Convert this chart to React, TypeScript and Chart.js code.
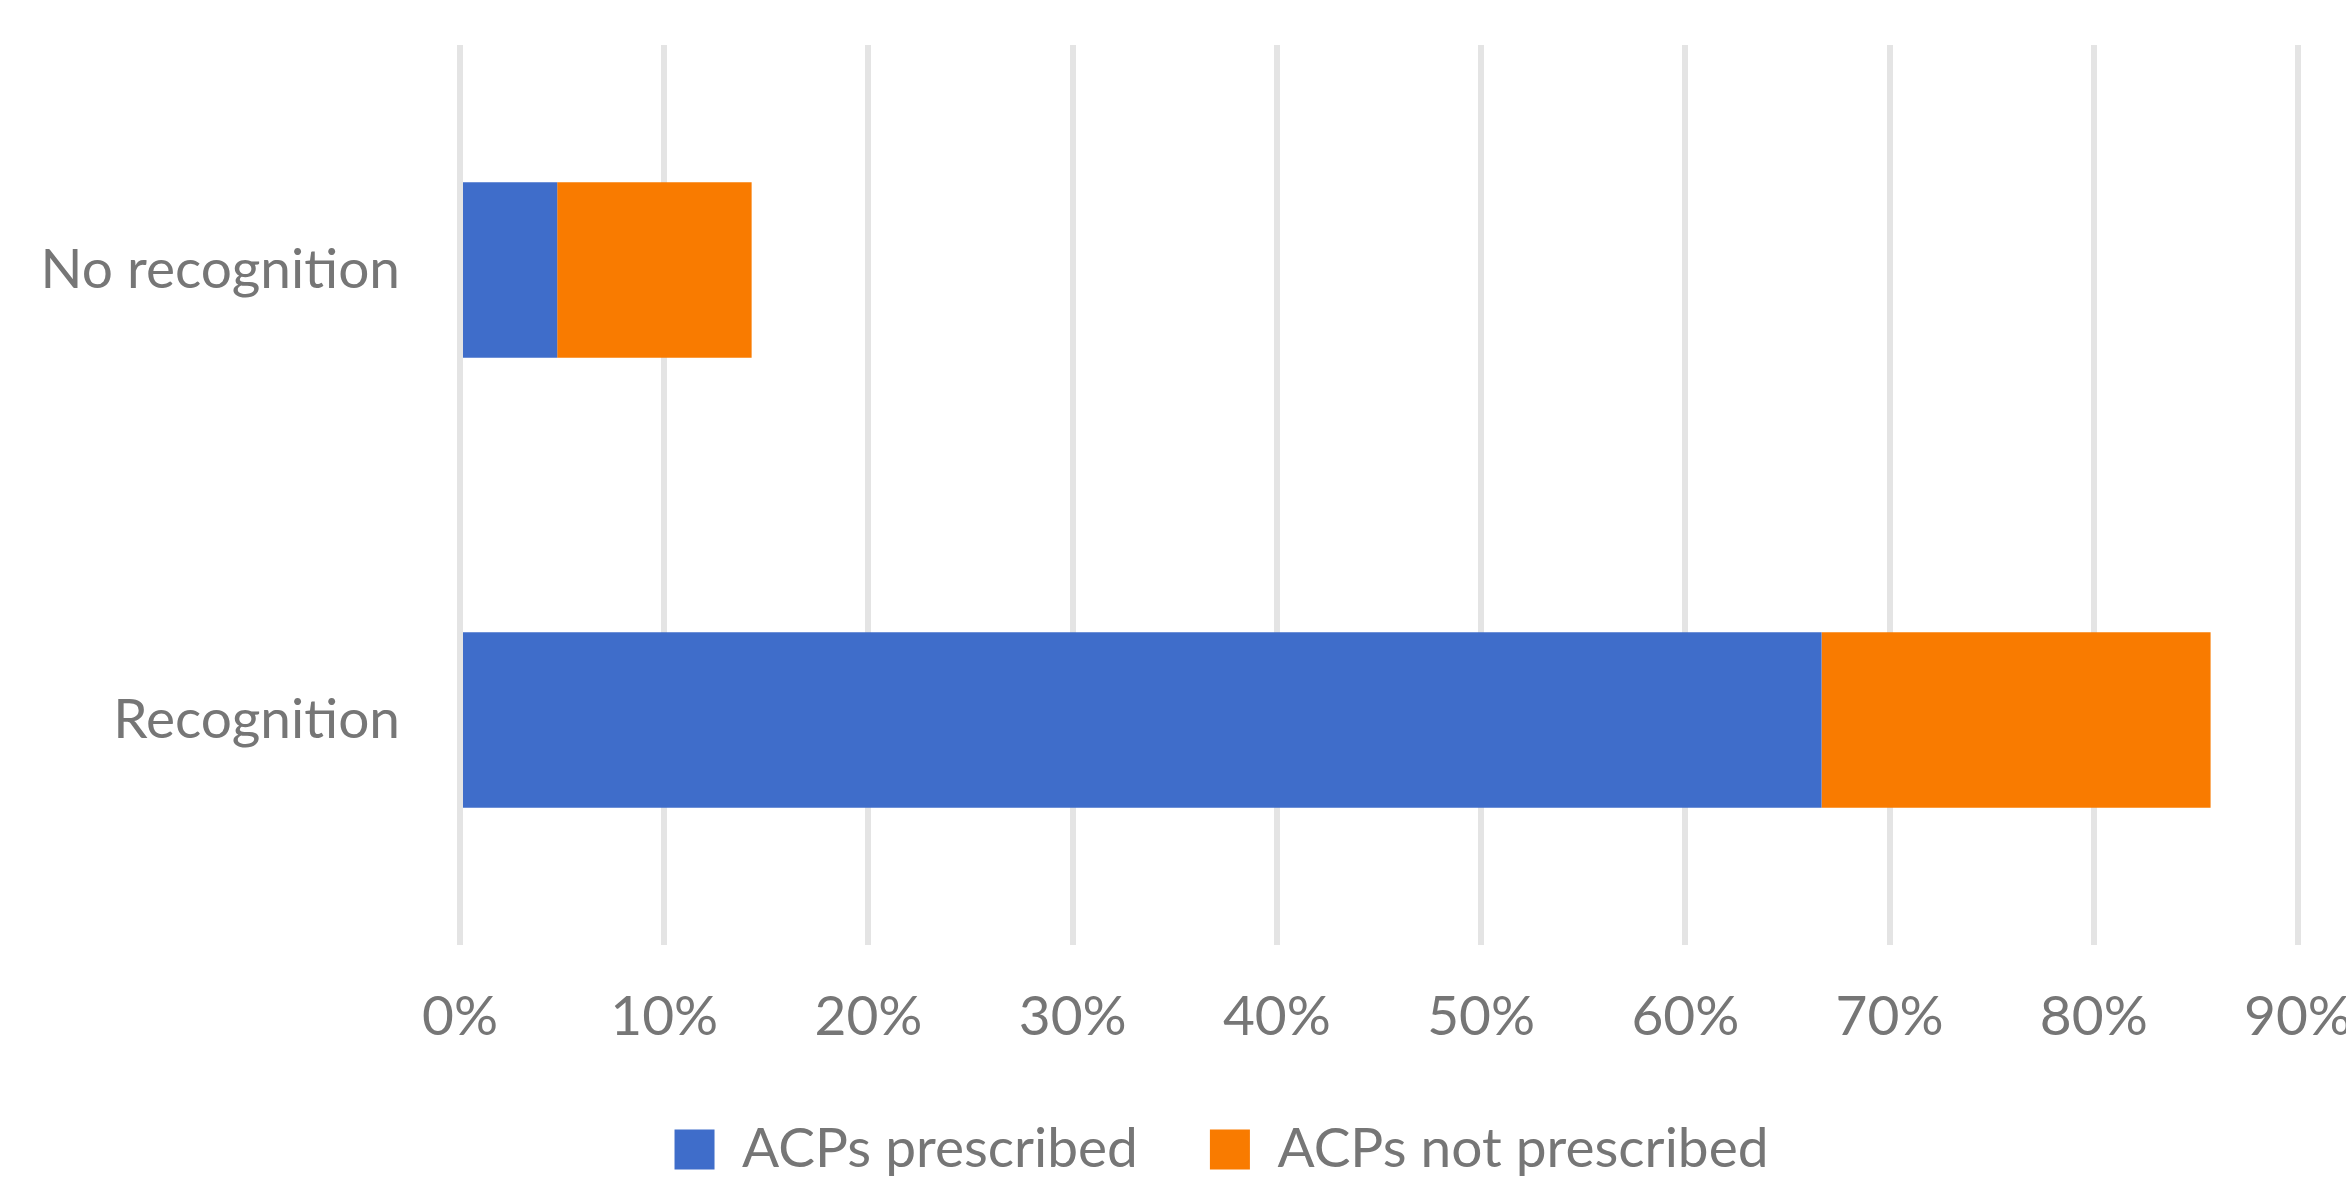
import React, { useEffect, useRef } from "react";
import { Chart, registerables } from "chart.js";

Chart.register(...registerables);

const categories = ["No recognition", "Recognition"];
const seriesNames = ["ACPs prescribed", "ACPs not prescribed"];
const prescribed = [4.76, 66.67];
const notPrescribed = [9.52, 19.05];
const xTicks = [0, 10, 20, 30, 40, 50, 60, 70, 80, 90];

const W = 2346;
const H = 1187;
const FONT = "Lato";
const FS = 55;
const TEXT = "#767676";

// lets the category labels extend left of the (narrowed) y-axis box
const yLabelArea = {
  id: "yLabelArea",
  afterLayout(chart: any) {
    const y = chart.scales.y;
    if (y) y.left = 0;
  },
};

export default function App() {
  const ref = useRef<HTMLCanvasElement | null>(null);

  useEffect(() => {
    if (!ref.current) return;
    const chart = new Chart(ref.current, {
      type: "bar",
      data: {
        labels: categories,
        datasets: [
          {
            label: seriesNames[0],
            data: prescribed,
            backgroundColor: "#3F6DCA",
            borderWidth: 0,
            categoryPercentage: 1,
            barPercentage: 0.39,
          },
          {
            label: seriesNames[1],
            data: notPrescribed,
            backgroundColor: "#F97B00",
            borderWidth: 0,
            categoryPercentage: 1,
            barPercentage: 0.39,
          },
        ],
      },
      plugins: [yLabelArea],
      options: {
        indexAxis: "y",
        responsive: false,
        animation: false,
        layout: { padding: { left: 97, top: 45, right: 0, bottom: 0 } },
        scales: {
          x: {
            stacked: true,
            min: 0,
            max: 90,
            afterBuildTicks: (axis: any) => {
              axis.ticks = xTicks.map((v) => ({ value: v }));
            },
            afterFit: (axis: any) => {
              axis.paddingRight = 48;
            },
            ticks: {
              callback: (v: any) => v + "%",
              font: { family: FONT, size: FS },
              color: TEXT,
              padding: 0,
              maxRotation: 0,
            },
            grid: {
              color: "#E4E4E4",
              lineWidth: 6,
              drawTicks: true,
              tickLength: 39,
              tickColor: "rgba(0,0,0,0)",
            },
            border: { display: false },
          },
          y: {
            stacked: true,
            ticks: {
              font: { family: FONT, size: FS },
              color: TEXT,
              padding: 0,
            },
            grid: {
              display: true,
              drawOnChartArea: false,
              color: "rgba(0,0,0,0)",
              tickColor: "rgba(0,0,0,0)",
              drawTicks: true,
              tickLength: 60,
            },
            border: { display: false },
            afterFit: (axis: any) => {
              axis.width = 363;
            },
          },
        },
        plugins: {
          legend: {
            position: "bottom",
            labels: {
              font: { family: FONT, size: FS },
              color: TEXT,
              boxWidth: 40,
              boxHeight: 40,
              padding: 72,
            },
          },
          tooltip: { enabled: false },
        },
      },
    });
    return () => chart.destroy();
  }, []);

  return (
    <div style={{ position: "absolute", left: 0, top: 0, width: W, height: H, background: "#fff" }}>
      <canvas ref={ref} width={W} height={H} style={{ display: "block" }} />
    </div>
  );
}
